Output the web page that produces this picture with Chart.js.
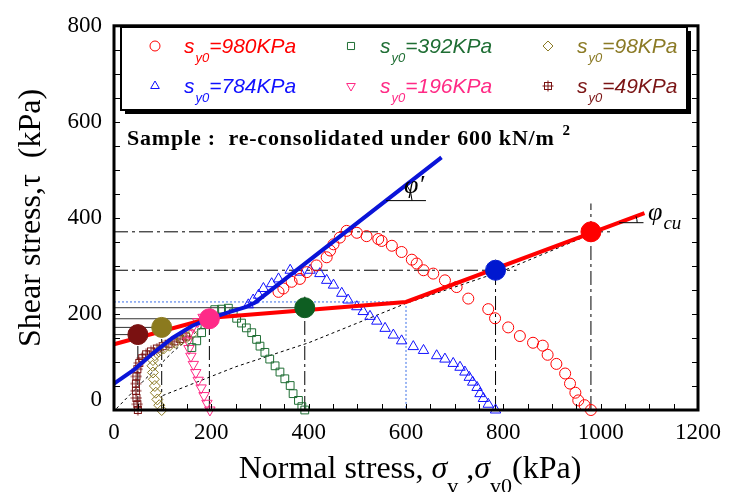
<!DOCTYPE html>
<html>
<head>
<meta charset="utf-8">
<script src="https://cdn.jsdelivr.net/npm/chart.js@4.4.1/dist/chart.umd.min.js"></script>
<style>
  body { margin: 0; background: #fff; }
</style>
</head>
<body>
<canvas id="shearChart" width="738" height="492"></canvas>
<script>
// stress paths, one per initial vertical stress (kPa)
let sig980 = [980,967,954,948,937,927,909,891,881,861,834,810,783,769,728,704,680,656,636,622,612,591,571,550,543,519,499,478,464,451,444,437,416,396,382,365,348,338];
let tau980 = [0,10,20,36,55,76,96,115,134,140,154,172,191,210,232,256,270,284,291,305,313,329,342,352,356,362,369,373,359,345,332,318,301,287,273,267,253,246];

let sig784 = [784,769,759,752,746,737,730,721,711,697,680,663,636,615,591,574,557,540,526,512,499,481,468,451,437,423,403,382,362,338,324,307,297,286,276];
let tau784 = [0,12,24,34,47,58,68,79,89,97,106,113,124,132,144,156,170,185,195,205,215,229,243,260,270,284,291,287,291,273,263,253,239,229,219];

let sig392 = [392,386,379,368,362,351,341,331,320,310,300,293,283,272,262,252,245,235,221,207,194,187,180,170,160];
let tau392 = [0,7,20,34,51,65,79,92,106,120,133,147,161,171,181,191,202,212,210,209,195,178,161,144,130];

let sig196 = [197,191,185,179,173,168,163,158,154,152,155,162,172,183,195];
let tau196 = [0,14,30,46,62,78,95,112,128,144,160,173,184,193,200];

let sig98 = [98,93,89,86,84,82,80,79,80,84,92,102,114,126,138,150,160];
let tau98 = [0,10,22,36,50,64,78,92,104,114,122,128,134,140,146,152,158];

let sig49 = [49,48,46,45,45,46,48,52,58,66,76,88,100,112,124,136,148];
let tau49 = [0,12,25,40,55,70,85,98,108,116,122,128,133,138,143,148,153];

// peak shear stress against sigma_v0
let peakSig = [49,98,196,392,784,980];
let peakTau = [157,172,190,213,291,371];
let peakTop = [165,180,200,236,313,430];   // top of the vertical guide lines

// envelopes
let cuSig = [0,200,600,1090];
let cuTau = [137,192,225,410];
let effSig = [0,40,80,120,160,200,240,270,290,673];
let effTau = [55,83,118,150,175,192,205,214,224,526];

// thin dotted curves
let dotASig = [5,60,120,200];
let dotATau = [3,60,120,190];
let dotBSig = [100,250,400,600,800,980];
let dotBTau = [30,90,140,222,290,366];

// pre-consolidation 600 kN/m2 marker
let preSig = 600;
let preTau = 225;

let xTicks = [0,200,400,600,800,1000,1200];
let yTicks = [0,200,400,600,800];

let legendNames = ['980','784','392','196','98','49'];

let cRed = '#ff0000', cBlue = '#1010ff', cGreen = '#1f6e34', cPink = '#ff2a85', cOlive = '#8b7a25', cMaroon = '#7b1515';
let fillCols = ['#7a1111','#8b7a1e','#ff2a88','#0e5e22','#0018d0','#ff0000'];

function pts(xs, ys) {
    return xs.map(function (x, i) { return { x: x, y: ys[i] }; });
}

// hash-square marker for the 49 kPa test
function gridSquare(color) {
    let c = document.createElement('canvas');
    c.width = 12; c.height = 12;
    let g = c.getContext('2d');
    g.strokeStyle = color;
    g.lineWidth = 1;
    g.strokeRect(2.5, 2.5, 7, 7);
    g.beginPath();
    g.moveTo(6, 0.5); g.lineTo(6, 11.5);
    g.moveTo(0.5, 6); g.lineTo(11.5, 6);
    g.stroke();
    return c;
}
let hashMark = gridSquare(cMaroon);

function guide(data, color, dash, width, order) {
    return {
        data: data, showLine: true, borderColor: color, borderWidth: width || 1,
        borderDash: dash, pointRadius: 0, fill: false, order: order || 20, clip: false
    };
}
function path(xs, ys, style, color, radius, rot) {
    return {
        data: pts(xs, ys), showLine: false, pointStyle: style, pointRadius: radius,
        pointRotation: rot || 0, borderColor: color, backgroundColor: 'rgba(0,0,0,0)',
        pointBorderWidth: 1, order: 10, clip: false
    };
}

let dashDot = [14, 4, 3, 4];
let datasets = [];

// vertical guide lines and horizontal lines to each peak
peakSig.forEach(function (s, i) {
    datasets.push(guide([{ x: s, y: 0 }, { x: s, y: peakTop[i] }], '#000', dashDot, 1, 30));
    if (i < 4) datasets.push(guide([{ x: 0, y: peakTau[i] }, { x: s, y: peakTau[i] }], '#333', [], 1, 30));
});
datasets.push(guide([{ x: 0, y: peakTau[4] }, { x: 827, y: peakTau[4] }], '#000', dashDot, 1, 30));
datasets.push(guide([{ x: 0, y: peakTau[5] }, { x: 1025, y: peakTau[5] }], '#000', dashDot, 1, 30));
datasets.push(guide([{ x: 0, y: preTau }, { x: preSig, y: preTau }, { x: preSig, y: 0 }], '#3a6fe8', [2, 2], 1, 30));
datasets.push(guide(pts(dotASig, dotATau), '#000', [3, 3], 1, 30));
datasets.push(guide(pts(dotBSig, dotBTau), '#000', [3, 3], 1, 30));

datasets.push(path(sig980, tau980, 'circle', cRed, 5.5));
datasets.push(path(sig784, tau784, 'triangle', cBlue, 6));
datasets.push(path(sig392, tau392, 'rect', cGreen, 5.5));
datasets.push(path(sig196, tau196, 'triangle', cPink, 6, 180));
datasets.push(path(sig98, tau98, 'rectRot', cOlive, 5.5));
datasets.push(path(sig49, tau49, hashMark, cMaroon, 6));

datasets.push(guide(pts(cuSig, cuTau), cRed, [], 4, 5));
datasets.push(guide(pts(effSig, effTau), '#0a14d8', [], 4, 4));

peakSig.forEach(function (s, i) {
    datasets.push({
        data: [{ x: s, y: peakTau[i] }], showLine: false, pointStyle: 'circle', pointRadius: 10,
        backgroundColor: fillCols[i], borderColor: fillCols[i], order: 1, clip: false
    });
});

let serif = '"Liberation Serif", "Times New Roman", serif';
let sans = '"Liberation Sans", Arial, sans-serif';

// frame, inward ticks, legend box and text annotations
let decorate = {
    id: 'decorate',
    afterDraw: function (chart) {
        let ctx = chart.ctx;
        let a = chart.chartArea;
        let xs = chart.scales.x, ys = chart.scales.y;
        ctx.save();

        // inward minor ticks every 50 kPa
        ctx.strokeStyle = '#000';
        ctx.lineWidth = 1;
        ctx.beginPath();
        for (let v = 50; v < 1200; v += 50) {
            let px = Math.round(xs.getPixelForValue(v)) + 0.5;
            ctx.moveTo(px, a.bottom); ctx.lineTo(px, a.bottom - 6);
            ctx.moveTo(px, a.top); ctx.lineTo(px, a.top + 6);
        }
        for (let v = 50; v < 800; v += 50) {
            let py = Math.round(ys.getPixelForValue(v)) + 0.5;
            ctx.moveTo(a.left, py); ctx.lineTo(a.left + 6, py);
            ctx.moveTo(a.right, py); ctx.lineTo(a.right - 6, py);
        }
        ctx.stroke();

        ctx.lineWidth = 3;
        ctx.strokeRect(a.left, a.top, a.right - a.left, a.bottom - a.top);

        // the y "0" sits a little above its tick, clear of the x "0"
        ctx.fillStyle = '#000';
        ctx.font = '23px ' + serif;
        ctx.textAlign = 'right';
        ctx.textBaseline = 'middle';
        ctx.fillText('0', a.left - 12, ys.getPixelForValue(0) - 10);

        // legend
        let lx = 121, ly = 27, lw = 566, lh = 83;
        ctx.fillStyle = '#000';
        ctx.fillRect(lx + 4, ly + 4, lw, lh);
        ctx.fillStyle = '#fff';
        ctx.fillRect(lx, ly, lw, lh);
        ctx.lineWidth = 2;
        ctx.strokeRect(lx, ly, lw, lh);

        let cols = [155, 351, 548];
        let rows = [46, 86];
        let styles = [['circle', cRed, 0], ['triangle', cBlue, 0], ['rect', cGreen, 0],
                      ['triangle', cPink, 180], ['rectRot', cOlive, 0], [hashMark, cMaroon, 0]];
        ctx.textBaseline = 'alphabetic';
        ctx.textAlign = 'left';
        for (let i = 0; i < 6; i++) {
            let cx = cols[Math.floor(i / 2)], cy = rows[i % 2];
            ctx.strokeStyle = styles[i][1];
            ctx.fillStyle = 'rgba(0,0,0,0)';
            ctx.lineWidth = 1;
            Chart.helpers.drawPoint(ctx, { pointStyle: styles[i][0], radius: 5, rotation: styles[i][2], borderWidth: 1 }, cx, cy);

            let tx = cx + 29;
            ctx.fillStyle = styles[i][1];
            ctx.font = 'italic 21px ' + sans;
            ctx.fillText('s', tx, cy + 7);
            tx += ctx.measureText('s').width + 1;
            ctx.font = 'italic 13px ' + sans;
            ctx.fillText('y0', tx, cy + 16);
            tx += ctx.measureText('y0').width;
            ctx.font = 'italic 21px ' + sans;
            ctx.fillText('=' + legendNames[i] + 'KPa', tx, cy + 7);
        }

        // sample note
        ctx.fillStyle = '#000';
        ctx.font = 'bold 22px ' + serif;
        ctx.letterSpacing = '0.8px';
        let note = 'Sample :  re-consolidated under 600 kN/m';
        ctx.fillText(note, 127, 145);
        let nw = ctx.measureText(note).width;
        ctx.font = 'bold 15px ' + serif;
        ctx.fillText('2', 127 + nw + 8, 135);
        ctx.letterSpacing = '0px';

        // friction angle marks
        function angleMark(s, t, len, r, slope, label, sub, lx2, ly2) {
            let px = xs.getPixelForValue(s), py = ys.getPixelForValue(t);
            let ex = xs.getPixelForValue(s + len);
            ctx.strokeStyle = '#000';
            ctx.lineWidth = 1;
            ctx.beginPath();
            ctx.moveTo(px, py); ctx.lineTo(ex, py);
            ctx.stroke();
            ctx.beginPath();
            ctx.arc(px, py, r, -Math.atan(slope), 0);
            ctx.stroke();
            ctx.fillStyle = '#000';
            ctx.font = 'italic 26px ' + serif;
            ctx.fillText(label, lx2, ly2);
            if (sub) {
                let w = ctx.measureText(label).width;
                ctx.font = 'italic 19px ' + serif;
                ctx.fillText(sub, lx2 + w + 1, ly2 + 9);
            }
        }
        angleMark(559, 436, 82, 26, 0.788, 'φ\u2032', '', 404, 193);
        angleMark(1038, 390, 50, 18, 0.377, 'φ', 'cu', 648, 220);

        // axis titles
        ctx.fillStyle = '#000';
        let parts = [['Normal stress, ', '32px', 0], ['σ', 'italic 32px', 0], ['v', '22px', 15],
                     [' ,', '32px', 0], ['σ', 'italic 32px', 0], ['v0', '22px', 15], ['(kPa)', '32px', 0]];
        let total = 0;
        parts.forEach(function (p) { ctx.font = p[1] + ' ' + serif; total += ctx.measureText(p[0]).width; });
        let x0 = 410 - total / 2;
        parts.forEach(function (p) {
            ctx.font = p[1] + ' ' + serif;
            ctx.fillText(p[0], x0, 478 + p[2]);
            x0 += ctx.measureText(p[0]).width;
        });

        ctx.translate(40, (a.top + a.bottom) / 2);
        ctx.rotate(-Math.PI / 2);
        ctx.textAlign = 'center';
        ctx.font = '32px ' + serif;
        ctx.fillText('Shear stress,τ  (kPa)', 0, 0);
        ctx.restore();
    }
};

let chart = new Chart(document.getElementById('shearChart').getContext('2d'), {
    type: 'scatter',
    data: { datasets: datasets },
    options: {
        responsive: false,
        animation: false,
        devicePixelRatio: 1,
        layout: { padding: { top: 20, right: 40, left: 0, bottom: 0 } },
        plugins: { legend: { display: false }, tooltip: { enabled: false } },
        scales: {
            x: {
                type: 'linear', min: 0, max: 1200,
                afterBuildTicks: function (s) { s.ticks = xTicks.map(function (v) { return { value: v }; }); },
                afterFit: function (s) { s.height = 82; },
                grid: { display: false, drawTicks: false },
                border: { display: false },
                ticks: {
                    color: '#000', padding: 9, font: { family: serif, size: 23 }, maxRotation: 0,
                    callback: function (v) { return String(v); }
                }
            },
            y: {
                type: 'linear', min: 0, max: 800,
                afterBuildTicks: function (s) { s.ticks = yTicks.map(function (v) { return { value: v }; }); },
                afterFit: function (s) { s.width = 114; },
                grid: { display: false, drawTicks: false },
                border: { display: false },
                ticks: {
                    color: '#000', padding: 12, font: { family: serif, size: 23 },
                    callback: function (v) { return v === 0 ? '' : String(v); }
                }
            }
        }
    },
    plugins: [decorate]
});
</script>
</body>
</html>
